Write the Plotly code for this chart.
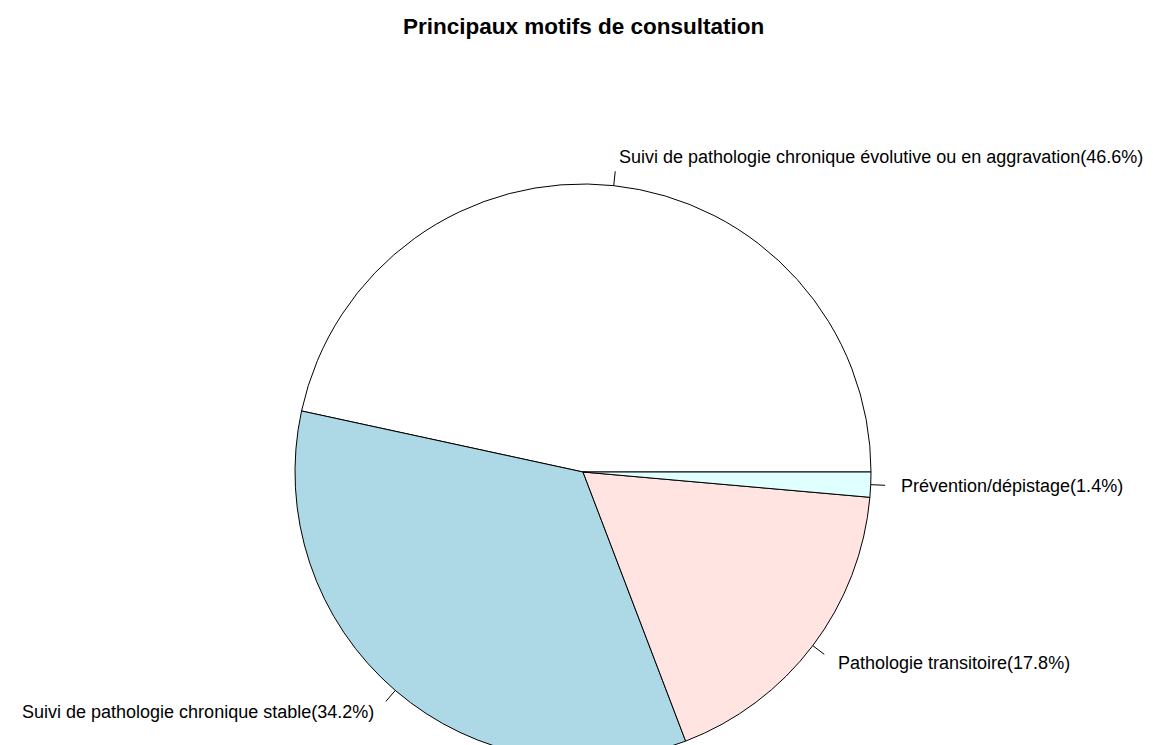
import numpy as np
import plotly.graph_objects as go

# ---- data ----
categories = [
    "Suivi de pathologie chronique évolutive ou en aggravation",
    "Suivi de pathologie chronique stable",
    "Pathologie transitoire",
    "Prévention/dépistage",
]
percentages = [46.6, 34.2, 17.8, 1.4]
slice_colors = ["#FFFFFF", "#ADD8E6", "#FFE4E1", "#E0FFFF"]
chart_title = "Principaux motifs de consultation"

# ---- layout geometry (pixels, in page coordinates) ----
W, H = 1153, 780
OFF = 8  # default page body margin
CX, CY, R = 583, 472, 288
FONT = "Liberation Sans, Arial, sans-serif"


def px(x):
    return (x - OFF) / W


def py(y):
    return 1 - (y - OFF) / H


vals = np.array(percentages, dtype=float)
total = vals.sum()
# R pie: first slice starts at 3 o'clock, counterclockwise.
# Plotly (counterclockwise) puts the boundary between slice 1 and 2 at `rotation`.
rotation = 90 - 360 * vals[0] / total

fig = go.Figure(
    go.Pie(
        labels=categories,
        values=percentages,
        sort=False,
        direction="counterclockwise",
        rotation=rotation,
        marker=dict(colors=slice_colors, line=dict(color="black", width=1)),
        textinfo="none",
        hoverinfo="label+percent",
        showlegend=False,
        domain=dict(x=[px(CX - R), px(CX + R)], y=[py(CY + R), py(CY - R)]),
    )
)

cum = np.cumsum(vals)
mids = 2 * np.pi * (cum - vals / 2) / total

shapes = []
annotations = []
for lab, p, a in zip(categories, percentages, mids):
    c, s = np.cos(a), np.sin(a)
    shapes.append(dict(type="line", xref="paper", yref="paper",
                       x0=px(CX + R * c), y0=py(CY - R * s),
                       x1=px(CX + 1.05 * R * c), y1=py(CY - 1.05 * R * s),
                       line=dict(color="black", width=1)))
    annotations.append(dict(xref="paper", yref="paper",
                            x=px(CX + 1.1 * R * c), y=py(CY - 1.1 * R * s),
                            text=f"{lab}({p}%)", showarrow=False,
                            xanchor="left" if c > 0 else "right", yanchor="middle",
                            font=dict(family=FONT, size=18, color="black")))

annotations.append(dict(xref="paper", yref="paper", x=px(CX), y=py(26),
                        text=f"<b>{chart_title}</b>", showarrow=False,
                        xanchor="center", yanchor="middle",
                        font=dict(family=FONT, size=22.5, color="black")))

fig.update_layout(
    width=W, height=H,
    margin=dict(l=0, r=0, t=0, b=0),
    paper_bgcolor="white", plot_bgcolor="white",
    shapes=shapes, annotations=annotations,
)

fig.write_html("out.html")
